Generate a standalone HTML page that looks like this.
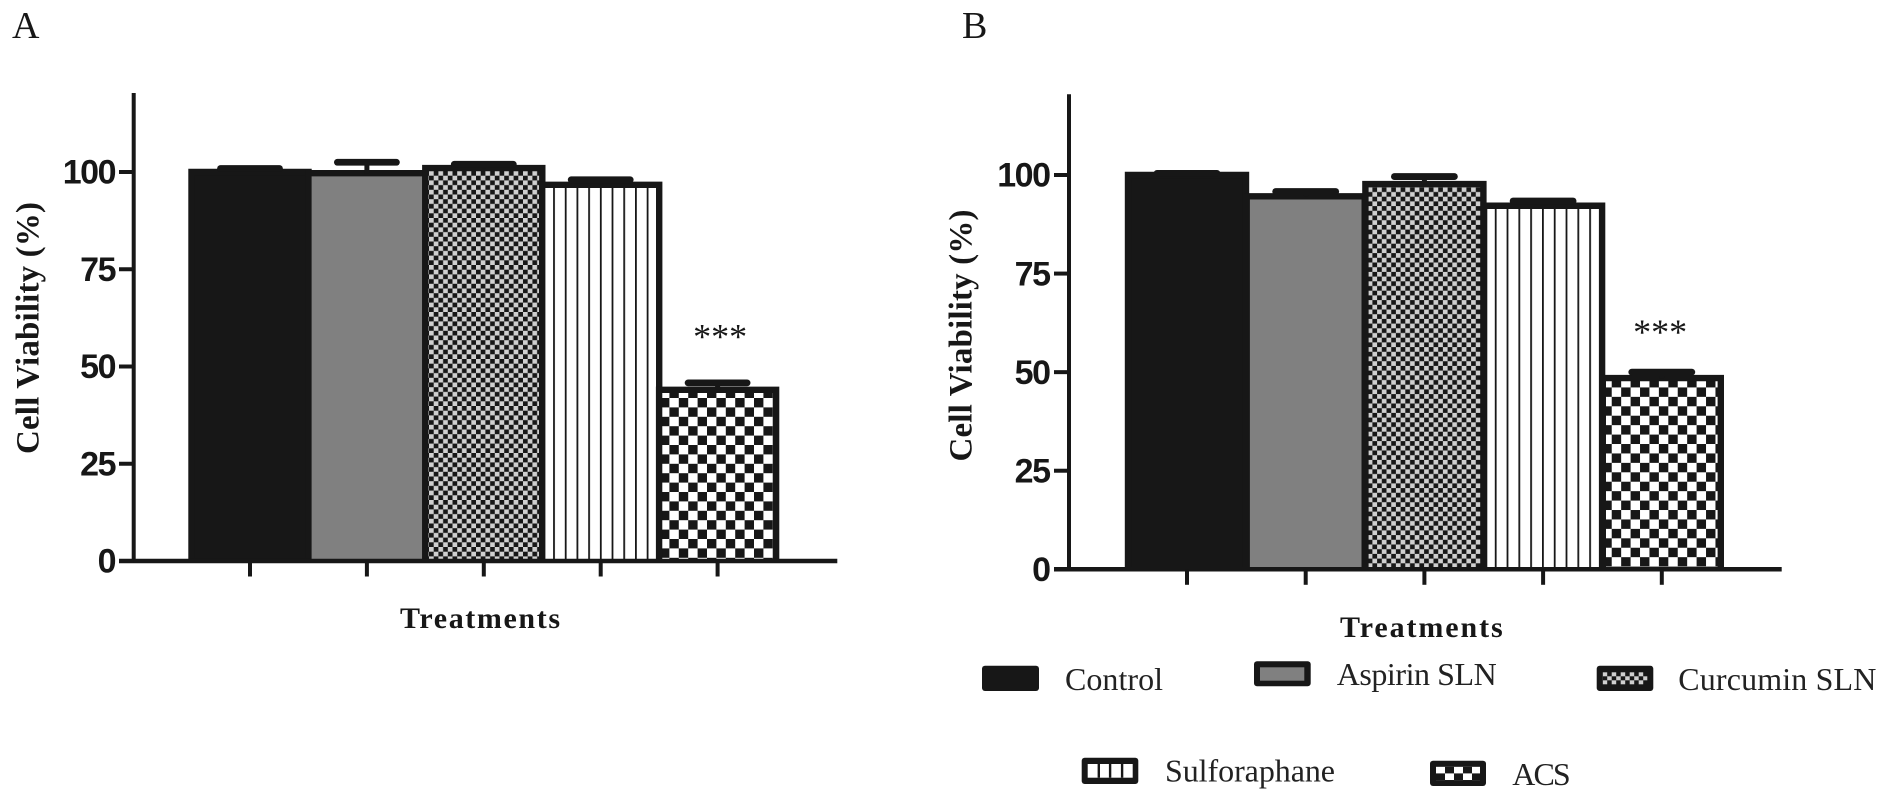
<!DOCTYPE html>
<html lang="en">
<head>
<meta charset="utf-8">
<title>Cell viability bar charts</title>
<style>
html,body{margin:0;padding:0;background:#fff;width:1890px;height:801px;overflow:hidden}
svg{display:block}
text{fill:#171717}
.serif{font-family:"Liberation Serif",serif}
.sans{font-family:"Liberation Sans",sans-serif}
.tick{font-size:34px;font-weight:700;letter-spacing:-1.5px;text-anchor:end}
.ytitle{font-size:33px;font-weight:700;text-anchor:middle}
.xtitle{font-size:30px;font-weight:700}
.panel{font-size:38px}
.legend{font-size:32px;fill:#222}
.stars{font-size:36px;text-anchor:middle}
</style>
</head>
<body>
<svg id="figure" width="1890" height="801" viewBox="0 0 1890 801" xmlns="http://www.w3.org/2000/svg">
  <defs>
    <pattern id="cur-a" patternUnits="userSpaceOnUse" x="429" y="171" width="9.4" height="9.4"><rect width="9.4" height="9.4" fill="#cfcfcf"/><rect x="4.7" width="4.7" height="4.7" fill="#171717"/><rect y="4.7" width="4.7" height="4.7" fill="#171717"/></pattern>
    <pattern id="cur-b" patternUnits="userSpaceOnUse" x="1367.7" y="187.3" width="9.4" height="9.4"><rect width="9.4" height="9.4" fill="#cfcfcf"/><rect x="4.7" width="4.7" height="4.7" fill="#171717"/><rect y="4.7" width="4.7" height="4.7" fill="#171717"/></pattern>
    <pattern id="sul-a" patternUnits="userSpaceOnUse" x="553.1" y="0" width="11.7" height="10"><rect width="11.7" height="10" fill="#fff"/><rect width="1.8" height="10" fill="#171717"/></pattern>
    <pattern id="sul-b" patternUnits="userSpaceOnUse" x="1494.8" y="0" width="11.8" height="10"><rect width="11.8" height="10" fill="#fff"/><rect width="1.8" height="10" fill="#171717"/></pattern>
    <pattern id="acs-a" patternUnits="userSpaceOnUse" x="660" y="388.6" width="18.8" height="18.8"><rect width="18.8" height="18.8" fill="#fff"/><rect x="9.4" width="9.4" height="9.4" fill="#171717"/><rect y="9.4" width="9.4" height="9.4" fill="#171717"/></pattern>
    <pattern id="acs-b" patternUnits="userSpaceOnUse" x="1602.3" y="378" width="18.86" height="18.86"><rect width="18.86" height="18.86" fill="#fff"/><rect x="9.43" width="9.43" height="9.43" fill="#171717"/><rect y="9.43" width="9.43" height="9.43" fill="#171717"/></pattern>
    <pattern id="cur-l" patternUnits="userSpaceOnUse" x="1602.7" y="672.3" width="9" height="12"><rect width="9" height="12" fill="#cfcfcf"/><rect x="4.5" width="4.5" height="4" fill="#171717"/><rect y="4" width="4.5" height="4" fill="#171717"/><rect x="4.5" y="8" width="4.5" height="4" fill="#171717"/></pattern>
    <pattern id="acs-l" patternUnits="userSpaceOnUse" x="1436" y="766.7" width="18" height="13.4"><rect width="18" height="13.4" fill="#fff"/><rect x="9" width="9" height="6.7" fill="#171717"/><rect y="6.7" width="9" height="6.7" fill="#171717"/></pattern>
  </defs>

  <text class="serif panel" x="12" y="38">A</text>
  <text class="serif panel" x="962" y="38">B</text>

  <g id="panel-a"></g>
  <g id="panel-b"></g>

  <text class="serif ytitle" transform="translate(38.5 328) rotate(-90)" textLength="252">Cell Viability (%)</text>
  <text class="serif ytitle" transform="translate(971.5 335.5) rotate(-90)" textLength="252">Cell Viability (%)</text>
  <text class="serif xtitle" x="400" y="628" textLength="160">Treatments</text>
  <text class="serif xtitle" x="1340" y="637" textLength="162.7">Treatments</text>

  <g>
    <g>
      <rect x="982" y="665.7" width="57" height="25.3" rx="3" fill="#171717"/>
      <text class="serif legend" x="1065" y="690" textLength="98">Control</text>
    </g>
    <g>
      <rect x="1254" y="661.3" width="56.7" height="25" rx="3" fill="#171717"/>
      <rect x="1260" y="667.3" width="44.3" height="13.4" fill="#808080"/>
      <text class="serif legend" x="1336.7" y="685" textLength="160">Aspirin SLN</text>
    </g>
    <g>
      <rect x="1596.7" y="665.7" width="56.6" height="25.3" rx="3" fill="#171717"/>
      <rect x="1602.7" y="672.3" width="44.6" height="12" fill="url(#cur-l)"/>
      <text class="serif legend" x="1678.3" y="690" textLength="198">Curcumin SLN</text>
    </g>
    <g>
      <rect x="1081.7" y="757.7" width="56.6" height="26.3" rx="3" fill="#171717"/>
      <rect x="1087.7" y="764" width="45" height="13.7" fill="#fff"/>
      <rect x="1097.6" y="764" width="2.4" height="13.7" fill="#171717"/>
      <rect x="1108.9" y="764" width="2.4" height="13.7" fill="#171717"/>
      <rect x="1120.9" y="764" width="2.4" height="13.7" fill="#171717"/>
      <text class="serif legend" x="1165" y="781.7" textLength="170">Sulforaphane</text>
    </g>
    <g>
      <rect x="1430" y="760.7" width="56" height="25.3" rx="3" fill="#171717"/>
      <rect x="1436" y="766.7" width="44" height="13.4" fill="url(#acs-l)"/>
      <text class="serif legend" x="1512.3" y="785" textLength="58.4">ACS</text>
    </g>
  </g>
</svg>
<script>
const categories = ['Control', 'Aspirin SLN', 'Curcumin SLN', 'Sulforaphane', 'ACS'];
const yTickLabels = [0, 25, 50, 75, 100];
const viabilityA = [100, 99.7, 101, 96.7, 44];
const errorA = [1.0, 2.9, 1.1, 1.4, 1.9];
const viabilityB = [100, 94.6, 97.7, 92.2, 48.5];
const errorB = [0.5, 1.3, 2.0, 1.3, 1.6];
const significanceLabels = ['', '', '', '', '***'];

const INK = '#171717';
const SVG_NS = 'http://www.w3.org/2000/svg';

function make(tag, attrs, parent) {
  const el = document.createElementNS(SVG_NS, tag);
  for (const k in attrs) el.setAttribute(k, attrs[k]);
  parent.appendChild(el);
  return el;
}

function drawPanel(cfg) {
  const root = document.getElementById(cfg.id);
  const yPos = v => cfg.y0 - v * cfg.k;
  const xPos = i => cfg.x0 + i * cfg.step;

  cfg.values.forEach((v, i) => {
    const top = yPos(v);
    const left = xPos(i) - cfg.halfBar;
    const right = xPos(i) + cfg.halfBar;
    const bar = make('path', {
      d: 'M' + left + ' ' + cfg.y0 + ' V' + top + ' H' + right + ' V' + cfg.y0,
      fill: cfg.fills[i], stroke: INK, 'stroke-width': 6.4
    }, root);
    
    
  });

  cfg.values.forEach((v, i) => {
    const topY = yPos(v + cfg.errors[i]);
    const stem = make('line', {
      x1: xPos(i), x2: xPos(i), y1: yPos(v), y2: topY, stroke: INK, 'stroke-width': 5
    }, root);
    
    
    const cap = make('line', {
      x1: xPos(i) - cfg.halfCap, x2: xPos(i) + cfg.halfCap, y1: topY + 0.4, y2: topY + 0.4,
      stroke: INK, 'stroke-width': 6.8, 'stroke-linecap': 'round'
    }, root);
    
    
  });

  const yAxis = make('line', {
    x1: cfg.axisX, x2: cfg.axisX, y1: cfg.axisTop, y2: cfg.y0 + 2, stroke: INK, 'stroke-width': 4
  }, root);
  
  
  const xAxis = make('line', {
    x1: cfg.tickLeft, x2: cfg.axisRight, y1: cfg.y0, y2: cfg.y0, stroke: INK, 'stroke-width': 4.5
  }, root);
  
  

  yTickLabels.forEach(t => {
    const y = yPos(t);
    const mark = make('line', {
      x1: cfg.tickLeft, x2: cfg.axisX, y1: y, y2: y, stroke: INK, 'stroke-width': 4
    }, root);
    
    
    const label = make('text', { x: cfg.labelRight, y: y + 11.7, class: 'sans tick' }, root);
    label.textContent = String(t);
    
    
  });

  categories.forEach((c, i) => {
    const mark = make('line', {
      x1: xPos(i), x2: xPos(i), y1: cfg.y0, y2: cfg.y0 + 15.5, stroke: INK, 'stroke-width': 4
    }, root);
    
    
  });

  significanceLabels.forEach((s, i) => {
    if (!s) return;
    const stars = make('text', {
      x: xPos(i) + cfg.starDx, y: yPos(cfg.values[i] + cfg.errors[i]) - cfg.starGap, class: 'serif stars'
    }, root);
    stars.textContent = s;
    
    
  });
}

drawPanel({
  id: 'panel-a', values: viabilityA, errors: errorA,
  y0: 561, k: 3.89, x0: 250, step: 116.9, halfBar: 58.5, halfCap: 29.5,
  axisX: 133.7, axisTop: 93, axisRight: 837.3, tickLeft: 119, labelRight: 115,
  starDx: 2.5, starGap: 34,
  fills: [INK, '#808080', 'url(#cur-a)', 'url(#sul-a)', 'url(#acs-a)']
});

drawPanel({
  id: 'panel-b', values: viabilityB, errors: errorB,
  y0: 569.3, k: 3.943, x0: 1187, step: 118.7, halfBar: 59, halfCap: 30,
  axisX: 1069, axisTop: 94.3, axisRight: 1781.7, tickLeft: 1054, labelRight: 1049.5,
  starDx: -1.7, starGap: 28,
  fills: [INK, '#808080', 'url(#cur-b)', 'url(#sul-b)', 'url(#acs-b)']
});
</script>
</body>
</html>
